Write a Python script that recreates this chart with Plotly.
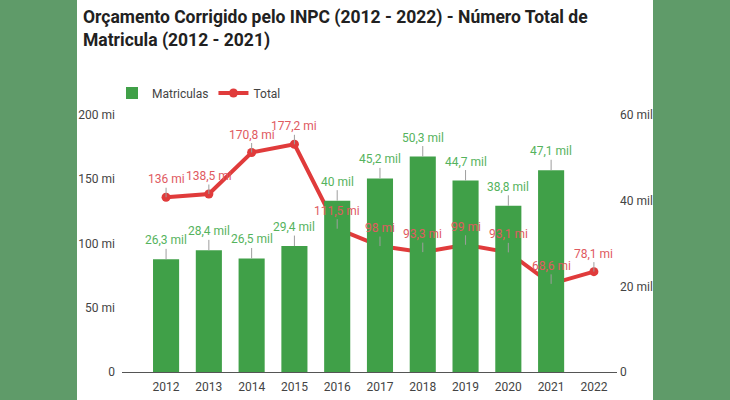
import plotly.graph_objects as go

years = ["2012", "2013", "2014", "2015", "2016", "2017", "2018", "2019", "2020", "2021", "2022"]
matriculas_mil = [26.3, 28.4, 26.5, 29.4, 40.0, 45.2, 50.3, 44.7, 38.8, 47.1, None]
total_mi = [136.0, 138.5, 170.8, 177.2, 111.5, 98.0, 93.3, 99.0, 93.1, 68.6, 78.1]
left_ticks = [0, 50, 100, 150, 200]
left_ticktext = ["0", "50 mi", "100 mi", "150 mi", "200 mi"]
right_ticks = [0, 20, 40, 60]
right_ticktext = ["0", "20 mil", "40 mil", "60 mil"]

BAR = "#40a048"
BAR_LBL = "#55b35d"
LINE = "#e03b3b"
LINE_LBL = "#e05a5f"
OUTER = "#5f9b69"
TICK = "#444444"

def fmt(v):
    s = f"{v:.1f}".replace(".", ",")
    if s.endswith(",0"):
        s = s[:-2]
    return s

xs = list(range(len(years)))

fig = go.Figure()
fig.add_trace(go.Bar(
    x=xs, y=matriculas_mil, name="Matriculas", yaxis="y2",
    marker=dict(color=BAR, line=dict(width=0)), width=0.61,
))
fig.add_trace(go.Scatter(
    x=xs, y=total_mi, name="Total", yaxis="y", mode="lines+markers",
    line=dict(color=LINE, width=4), marker=dict(color=LINE, size=9),
))

L, R = 122, 617
W = R - L
def px2paper_x(p):
    return (p - L) / W
T, B = 115, 372
H = B - T
def px2paper_y(p):
    return (B - p) / H

annotations = []
for x, v in zip(xs, matriculas_mil):
    if v is None:
        continue
    annotations.append(dict(
        x=x, y=v, xref="x", yref="y2", text=fmt(v) + " mil",
        showarrow=True, arrowhead=0, arrowwidth=1, arrowcolor="#9e9e9e",
        ax=0, ay=-19, font=dict(family="Roboto", size=12, color=BAR_LBL),
    ))
for x, v in zip(xs, total_mi):
    annotations.append(dict(
        x=x, y=v, xref="x", yref="y", text=fmt(v) + " mi",
        showarrow=True, arrowhead=0, arrowwidth=1, arrowcolor="#9e9e9e",
        ax=0, ay=-18, font=dict(family="Roboto", size=12, color=LINE_LBL),
    ))
annotations.append(dict(
    text="Orçamento Corrigido pelo INPC (2012 - 2022) - Número Total de<br>Matricula (2012 - 2021)",
    xref="paper", yref="paper", x=px2paper_x(81), y=px2paper_y(5),
    xanchor="left", yanchor="top", align="left", showarrow=False,
    font=dict(family="Roboto", size=17.5, color="#212121", weight="bold"),
))

fig.update_layout(
    width=730, height=400,
    margin=dict(l=L, r=730 - R, t=T, b=400 - B),
    paper_bgcolor=OUTER, plot_bgcolor="white",
    font=dict(family="Roboto", size=12, color=TICK),
    showlegend=True,
    legend=dict(orientation="h", x=px2paper_x(112), xanchor="left", y=px2paper_y(93), yanchor="middle",
                font=dict(size=12, color=TICK), bgcolor="rgba(0,0,0,0)", itemwidth=30),
    xaxis=dict(
        range=[-1.03, 10.54], tickmode="array", tickvals=xs, ticktext=years,
        showgrid=False, zeroline=False, showline=True, linecolor="#555555", linewidth=1,
        ticks="", tickfont=dict(size=12, color=TICK), automargin=False,
        ticklabelstandoff=4,
    ),
    yaxis=dict(
        range=[0, 200], tickvals=left_ticks, ticktext=left_ticktext, showgrid=False,
        zeroline=False, showline=False, ticks="", tickfont=dict(size=12, color=TICK),
        automargin=False, ticklabelstandoff=6,
    ),
    yaxis2=dict(
        range=[0, 60], tickvals=right_ticks, ticktext=right_ticktext, overlaying="y",
        side="right", showgrid=False, zeroline=False, showline=False, ticks="",
        tickfont=dict(size=12, color=TICK), automargin=False, ticklabelstandoff=2,
    ),
    annotations=annotations,
    shapes=[dict(
        type="rect", xref="paper", yref="paper", layer="below",
        x0=px2paper_x(77), x1=px2paper_x(653), y0=-0.3, y1=1.7,
        fillcolor="white", line=dict(width=0),
    )],
)

fig.write_html("out.html", config={"displayModeBar": False},
               post_script="document.body.style.margin='0px';")
